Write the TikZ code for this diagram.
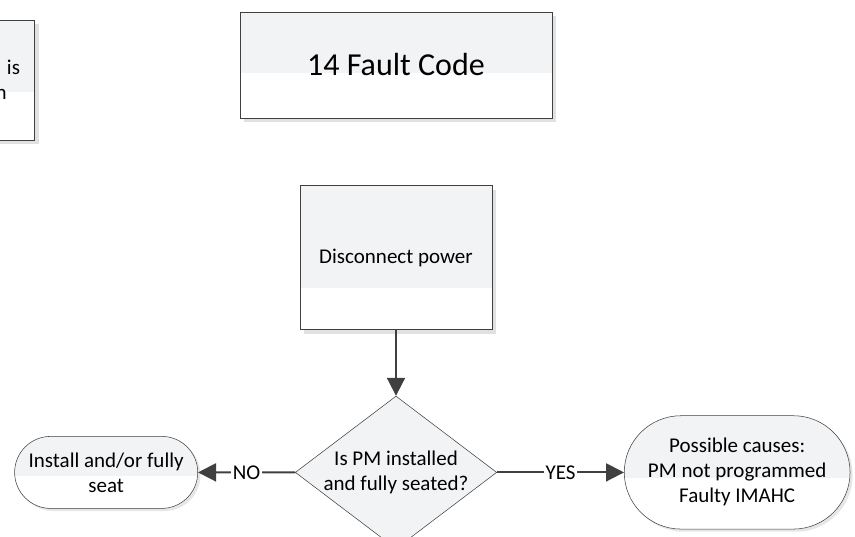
\documentclass[tikz,border=0pt]{standalone}
\usepackage{fontspec}
\setmainfont{Carlito}
\usetikzlibrary{arrows.meta,positioning,shapes.geometric,shapes.misc,shadows,calc}

\definecolor{boxgray}{HTML}{F2F3F4}
\definecolor{linegray}{HTML}{404040}

\begin{document}
\begin{tikzpicture}[
    node distance=50pt,
    txt/.style={font=\fontsize{15.75pt}{18.75pt}\selectfont},
    shade2/.style={
        path picture={\fill[white]
          ($(path picture bounding box.north west)!#1!(path picture bounding box.south west)$)
          rectangle (path picture bounding box.south east);}
    },
    box/.style={
        rectangle, draw=linegray, fill=boxgray, txt, align=center,
        drop shadow={shadow xshift=3pt, shadow yshift=-3pt, fill=black!15, opacity=0.8}
    },
    term/.style={
        rounded rectangle, draw=linegray, fill=boxgray, txt, align=center,
        shade2=0.55,
        drop shadow={shadow xshift=2pt, shadow yshift=-2pt, fill=black!12, opacity=0.8}
    },
    decide/.style={
        diamond, draw=linegray, fill=boxgray, txt, align=center,
        inner sep=0pt, shape aspect=1.32,
        minimum width=142.5pt, minimum height=108pt
    },
    lbl/.style={fill=white, inner sep=1pt, txt},
    arrow/.style={-{Triangle[length=13.5pt,width=13.5pt]}, line width=1.5pt, draw=linegray}
]
\useasboundingbox (0,0) rectangle (641.25pt,-402pt);
\clip (0,0) rectangle (641.25pt,-402pt);

% boxes at the top
\node[box, shade2=0.6, text width=110pt, align=right, inner xsep=11pt,
      minimum height=90pt] (prev) at (-40pt,-60pt) {l is\\ n\rule{10pt}{0pt}};
\node[box, shade2=0.575, minimum width=234pt, minimum height=79.5pt,
      font=\fontsize{24pt}{28pt}\selectfont] (fault) at (297pt,-48.75pt) {14 Fault Code};
\node[box, shade2=0.71, minimum width=144pt, minimum height=108pt,
      below=50.25pt of fault] (power) {Disconnect power};

% decision
\node[decide, below=49.5pt of power] (seated) {Is PM installed\\and fully seated?};
\node[term, minimum width=144pt, minimum height=54pt,
      left=72.75pt of seated] (install) {Install and/or fully\\seat};
\node[term, minimum width=176pt, minimum height=85pt,
      right=95.25pt of seated] (causes) {Possible causes:\\PM not programmed\\Faulty IMAHC};

\draw[arrow] (power) -- (seated);
\draw[arrow] (seated) -- node[lbl] (no) {NO} (install);
\draw[arrow] (seated) -- node[lbl] (yes) {YES} (causes);
\end{tikzpicture}
\end{document}
